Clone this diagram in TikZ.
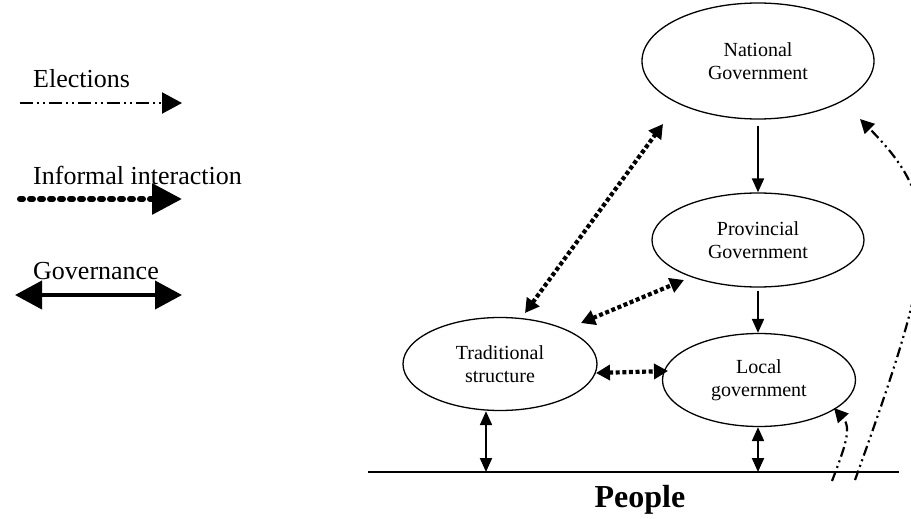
\documentclass[tikz,border=0pt]{standalone}
\usepackage{fontspec}
\setmainfont{Liberation Serif}
\usetikzlibrary{arrows.meta,shapes.geometric}
\begin{document}
\begin{tikzpicture}[x=1pt,y=-1pt,
 ell/.style={draw,ellipse,line width=1.3pt,inner sep=0pt,align=center,font=\fontsize{20}{23}\selectfont},
 gov/.style={line width=2pt,-{Triangle[width=12pt,length=14pt]}},
 govb/.style={line width=2pt,{Triangle[width=12pt,length=14pt]}-{Triangle[width=12pt,length=14pt]}},
 inf/.style={line width=4.2pt,dash pattern=on 4pt off 2.6pt,{Triangle[width=15pt,length=14pt]}-{Triangle[width=15pt,length=14pt]}},
 elec/.style={line width=2.2pt,dash pattern=on 10pt off 4pt on 2pt off 4pt on 2pt off 4pt,-{Triangle[width=14pt,length=14pt]}},
 legel/.style={line width=2.2pt,dash pattern=on 13pt off 4pt on 2pt off 4pt on 2pt off 4pt,-{Triangle[width=21pt,length=20pt]}},
 leginf/.style={line width=6pt,line cap=round,dash pattern=on 3pt off 7pt,-{Triangle[width=30pt,length=30pt]}},
 leggov/.style={line width=4pt,{Triangle[width=28pt,length=27pt]}-{Triangle[width=28pt,length=27pt]}},
 leg/.style={font=\fontsize{26}{30}\selectfont,anchor=base west,inner sep=0pt}]
\useasboundingbox (0,0) rectangle (911,519);
\clip (0,0) rectangle (911,519);

% ellipses
\node[ell,minimum width=232pt,minimum height=116pt] (nat) at (758,61) {National\\Government};
\node[ell,minimum width=212pt,minimum height=94pt] (prov) at (758,240) {Provincial\\Government};
\node[ell,minimum width=194pt,minimum height=93pt] (trad) at (500,364) {Traditional\\structure};
\node[ell,minimum width=193pt,minimum height=93pt] (loc) at (759,380) {Local\\government};

% people
\coordinate (pl) at (368,472);
\coordinate (pr) at (899,472);
\draw[line width=1.3pt] (pl) -- (pr);
\node[font=\bfseries\fontsize{32}{36}\selectfont] (people) at (640,500) {People};

% governance
\draw[gov] ([yshift=-6pt]nat.south) -- (nat.south |- prov.north);
\draw[gov] ([yshift=-3pt]prov.south) -- (prov.south |- loc.north);
\coordinate (tp) at (486,472);
\coordinate (lp) at (758,472);
\draw[govb] (trad.south -| tp) -- (tp);
\draw[govb] (loc.south -| lp) -- (lp);

% informal
\coordinate (tn1) at (525,313); \coordinate (tn2) at (663,124);
\draw[inf] (tn1) -- (tn2);
\coordinate (tp1) at (581,323); \coordinate (tp2) at (684,280);
\draw[inf] (tp1) -- (tp2);
\coordinate (tl1) at (596,373); \coordinate (tl2) at (668,371);
\draw[inf] (tl1) -- (tl2);

% elections
\coordinate (e1s) at (832,481); \coordinate (e1e) at (834,408);
\draw[elec] (e1s) .. controls (845,447) and (852,428) .. (e1e);
\coordinate (e2s) at (855,480); \coordinate (e2e) at (860,119);
\draw[elec] (e2s) .. controls (937,252) and (945,205) .. (e2e);

% legend
\node[leg] (lel) at (33,88) {Elections};
\coordinate (l1a) at (20,103); \coordinate (l1b) at (182,103);
\draw[legel] (l1a) -- (l1b);
\node[leg] (linf) at (33,184) {Informal interaction};
\coordinate (l2a) at (20,199); \coordinate (l2b) at (182,199);
\draw[leginf] (l2a) -- (l2b);
\node[leg] (lgov) at (33,279) {Governance};
\coordinate (l3a) at (15,295); \coordinate (l3b) at (182,295);
\draw[leggov] (l3a) -- (l3b);
\end{tikzpicture}
\end{document}
